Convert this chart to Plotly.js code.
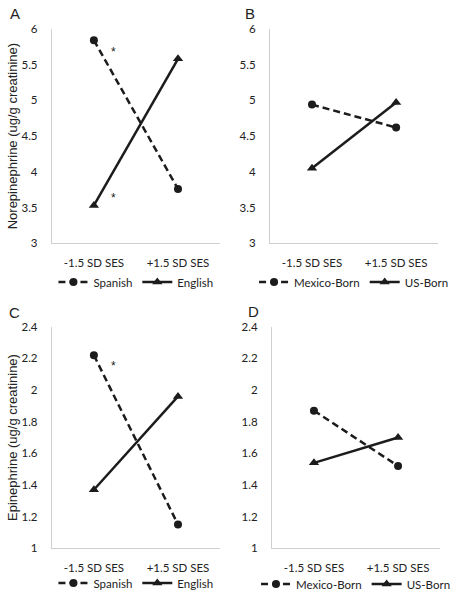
<!DOCTYPE html>
<html>
<head>
<meta charset="utf-8">
<script src="https://cdn.plot.ly/plotly-3.0.1.min.js"></script>
<style>html,body{margin:0;padding:0;background:#fff;}#chart{width:456px;height:599px;}</style>
</head>
<body>
<div id="chart"></div>
<script>
// ---- data ----
const categories = ['-1.5 SD SES', '+1.5 SD SES'];
const normSpanish = [5.84, 3.76];
const normEnglish = [3.53, 5.58];
const normMexico = [4.94, 4.62];
const normUS = [4.05, 4.97];
const epiSpanish = [2.22, 1.15];
const epiEnglish = [1.37, 1.96];
const epiMexico = [1.87, 1.52];
const epiUS = [1.54, 1.70];
const languageNames = ['Spanish', 'English'];
const birthNames = ['Mexico-Born', 'US-Born'];
const panelLabels = ['A', 'B', 'C', 'D'];
const yTitles = ['Norepinephrine (ug/g creatinine)', 'Epinephrine (ug/g creatinine)'];

const lineColor = '#1c1c1c';
const tickFont = {family: 'Lato, "Open Sans", sans-serif', size: 11.5, color: '#222'};

function dashedTrace(y, name, xa, ya, leg) {
  return {x: categories, y: y, name: name, xaxis: xa, yaxis: ya, legend: leg,
    type: 'scatter', mode: 'lines+markers',
    line: {color: lineColor, width: 2.5, dash: '7px,4px'},
    marker: {symbol: 'circle', size: 8, color: lineColor}};
}
function solidTrace(y, name, xa, ya, leg) {
  return {x: categories, y: y, name: name, xaxis: xa, yaxis: ya, legend: leg,
    type: 'scatter', mode: 'lines+markers',
    line: {color: lineColor, width: 2.5},
    marker: {symbol: 'triangle-up', size: 9, color: lineColor}};
}

const data = [
  dashedTrace(normSpanish, languageNames[0], 'x', 'y', 'legend'),
  solidTrace(normEnglish, languageNames[1], 'x', 'y', 'legend'),
  dashedTrace(normMexico, birthNames[0], 'x2', 'y2', 'legend2'),
  solidTrace(normUS, birthNames[1], 'x2', 'y2', 'legend2'),
  dashedTrace(epiSpanish, languageNames[0], 'x3', 'y3', 'legend3'),
  solidTrace(epiEnglish, languageNames[1], 'x3', 'y3', 'legend3'),
  dashedTrace(epiMexico, birthNames[0], 'x4', 'y4', 'legend4'),
  solidTrace(epiUS, birthNames[1], 'x4', 'y4', 'legend4')
];

function xAxis(domain, anchor) {
  return {domain: domain, anchor: anchor, type: 'category', range: [-0.5, 1.5],
    showline: true, linecolor: '#cfcfcf', linewidth: 1, showgrid: false, zeroline: false,
    ticks: '', tickfont: tickFont, ticklabelstandoff: 9, fixedrange: true};
}
function yAxis(domain, anchor, range, dtick, title) {
  const ax = {domain: domain, anchor: anchor, range: range, dtick: dtick, tick0: range[0],
    showline: true, linecolor: '#cfcfcf', linewidth: 1, showgrid: false, zeroline: false,
    ticks: '', tickfont: tickFont, ticklabelstandoff: 11, fixedrange: true};
  if (title) ax.title = {text: title, font: {family: '"Liberation Sans", Arial, sans-serif', size: 13, color: '#222'}, standoff: 0};
  return ax;
}
function legendAt(x, y) {
  return {orientation: 'h', x: x, y: y, xanchor: 'center', yanchor: 'middle',
    font: {family: 'Lato, "Open Sans", sans-serif', size: 11.5, color: '#222'},
    itemwidth: 30, tracegroupgap: 0, bgcolor: 'rgba(0,0,0,0)'};
}

const xdA = [53/456, 225/456], xdB = [276/456, 448/456];
const xdC = [53/456, 225/456], xdD = [278/456, 450/456];
const ydTop = [1 - 245/599, 1 - 29/599];
const ydBot = [1 - 552/599, 1 - 329/599];

const annFont = {family: '"Liberation Sans", Arial, sans-serif', size: 15, color: '#222'};
const starFont = {family: '"Liberation Sans", Arial, sans-serif', size: 12, color: '#222'};

const layout = {
  width: 456, height: 599, margin: {l: 0, r: 0, t: 0, b: 0},
  paper_bgcolor: '#fff', plot_bgcolor: '#fff', showlegend: true,
  xaxis: xAxis(xdA, 'y'), yaxis: yAxis(ydTop, 'x', [3, 6], 0.5, yTitles[0]),
  xaxis2: xAxis(xdB, 'y2'), yaxis2: yAxis(ydTop, 'x2', [3, 6], 0.5),
  xaxis3: xAxis(xdC, 'y3'), yaxis3: yAxis(ydBot, 'x3', [1, 2.4], 0.2, yTitles[1]),
  xaxis4: xAxis(xdD, 'y4'), yaxis4: yAxis(ydBot, 'x4', [1, 2.4], 0.2),
  legend: legendAt((xdA[0] + xdA[1]) / 2, 1 - 284/599),
  legend2: legendAt((xdB[0] + xdB[1]) / 2, 1 - 284/599),
  legend3: legendAt((xdC[0] + xdC[1]) / 2, 1 - 587/599),
  legend4: legendAt((xdD[0] + xdD[1]) / 2, 1 - 588/599),
  annotations: [
    {text: panelLabels[0], xref: 'paper', yref: 'paper', x: 8/456, y: 1 - 14/599, xanchor: 'left', yanchor: 'middle', showarrow: false, font: annFont},
    {text: panelLabels[1], xref: 'paper', yref: 'paper', x: 248/456, y: 1 - 14/599, xanchor: 'left', yanchor: 'middle', showarrow: false, font: annFont},
    {text: panelLabels[2], xref: 'paper', yref: 'paper', x: 7/456, y: 1 - 315/599, xanchor: 'left', yanchor: 'middle', showarrow: false, font: annFont},
    {text: panelLabels[3], xref: 'paper', yref: 'paper', x: 252/456, y: 1 - 314/599, xanchor: 'left', yanchor: 'middle', showarrow: false, font: annFont},
    {text: '*', xref: 'x', yref: 'y', x: 0.23, y: 5.68, showarrow: false, font: starFont},
    {text: '*', xref: 'x', yref: 'y', x: 0.23, y: 3.64, showarrow: false, font: starFont},
    {text: '*', xref: 'x3', yref: 'y3', x: 0.23, y: 2.15, showarrow: false, font: starFont}
  ]
};

Plotly.newPlot('chart', data, layout, {staticPlot: true, displayModeBar: false});
</script>
</body>
</html>
